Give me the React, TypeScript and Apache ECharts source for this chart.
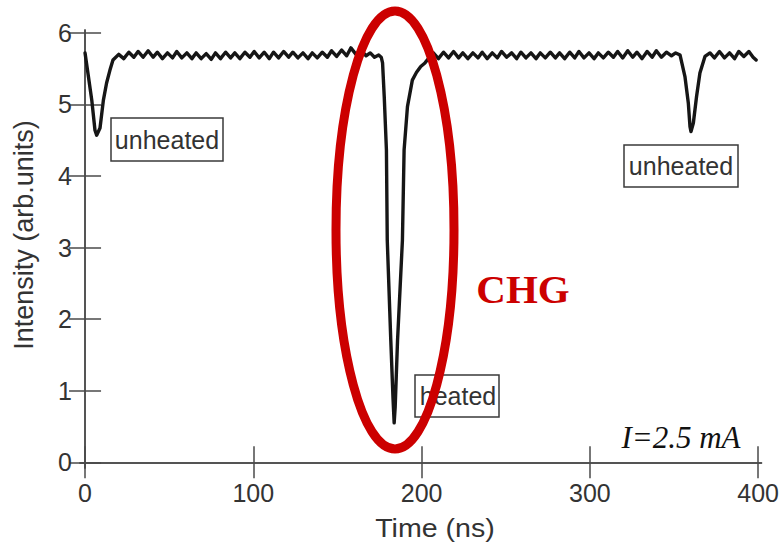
import React, { useEffect, useRef } from "react";
import * as echarts from "echarts";

const timeNs = [
  0, 2.0, 4.0, 5.9, 6.9, 8.9, 10.9, 12.8, 14.8, 16.6,
  20, 23, 26, 29, 31.5, 34.5, 37.5, 40.5, 43, 46, 49, 52, 54.5, 57.5, 60.5, 63.5,
  66, 69, 72, 75, 77.5, 80.5, 83.5, 86.5, 89, 92, 95, 98, 100.5, 103.5, 106.5, 109.5,
  112, 115, 118, 121, 123.5, 126.5, 129.5, 132.5, 135, 138, 141, 144, 146.5, 149.5,
  152.5, 155.5, 158, 161, 164, 167, 169.5, 172, 174.5, 176,
  176.8, 177.8, 179.1, 179.6, 181.7, 183, 183.7, 184.3, 185.7, 188.6, 189.6, 191.6,
  194.5, 197, 199.5, 202, 204.4,
  207, 210, 213, 216, 219, 222, 224.5, 227.5, 230.5, 233.5, 236, 239, 242, 245,
  247.5, 250.5, 253.5, 256.5, 259, 262, 265, 268, 270.5, 273.5, 276.5, 279.5, 282,
  285, 288, 291, 293.5, 296.5, 299.5, 302.5, 305, 308, 311, 314, 316.5, 319.5, 322.5,
  325.5, 328, 331, 334, 337, 339.5, 342.5, 345.5, 348.5, 351,
  353.6, 356.5, 358.5, 359.5, 360.1, 361.5, 363.4, 365.4, 368.4, 371.4,
  374, 377, 380, 383, 386, 388.5, 391.5, 394.5, 397, 398.8,
];
const intensity = [
  5.72, 5.39, 5.06, 4.64, 4.57, 4.67, 5.06, 5.30, 5.48, 5.62,
  5.70, 5.64, 5.73, 5.66, 5.74, 5.66, 5.75, 5.66, 5.73, 5.64, 5.72, 5.65, 5.74, 5.65, 5.72, 5.64,
  5.72, 5.64, 5.71, 5.63, 5.72, 5.64, 5.73, 5.65, 5.72, 5.64, 5.73, 5.66, 5.74, 5.65, 5.73, 5.64,
  5.73, 5.65, 5.74, 5.66, 5.73, 5.65, 5.72, 5.64, 5.72, 5.65, 5.73, 5.66, 5.75, 5.67,
  5.76, 5.68, 5.79, 5.70, 5.76, 5.68, 5.72, 5.66, 5.69, 5.66,
  5.58, 5.11, 4.36, 3.10, 1.70, 0.90, 0.55, 0.77, 1.70, 3.10, 4.36, 4.97,
  5.34, 5.45, 5.53, 5.58, 5.65,
  5.72, 5.64, 5.73, 5.65, 5.74, 5.65, 5.72, 5.64, 5.72, 5.65, 5.73, 5.64, 5.72, 5.65,
  5.74, 5.66, 5.72, 5.64, 5.73, 5.65, 5.72, 5.64, 5.72, 5.65, 5.73, 5.65, 5.72,
  5.64, 5.73, 5.65, 5.74, 5.65, 5.72, 5.64, 5.72, 5.65, 5.73, 5.66, 5.74, 5.65, 5.75,
  5.66, 5.73, 5.64, 5.74, 5.66, 5.75, 5.66, 5.73, 5.68, 5.72,
  5.69, 5.39, 5.02, 4.69, 4.62, 4.74, 5.11, 5.44, 5.67, 5.72,
  5.65, 5.74, 5.65, 5.72, 5.64, 5.74, 5.67, 5.74, 5.66, 5.62,
];

const xTicks = [0, 100, 200, 300, 400];
const yTicks = [0, 1, 2, 3, 4, 5, 6];
const xTitle = "Time (ns)";
const yTitle = "Intensity (arb.units)";
const unheatedLabel = "unheated";
const heatedLabel = "heated";
const chgLabel = "CHG";
const currentLabel = "I=2.5 mA";

const SANS = "'Liberation Sans', Arial, Helvetica, sans-serif";
const SERIF = "'Liberation Serif', 'Times New Roman', serif";
const AXIS_COLOR = "#4a4a4a";
const TEXT_COLOR = "#333";
const RED = "#cc0000";

export default function App() {
  const ref = useRef<HTMLDivElement>(null);

  useEffect(() => {
    if (!ref.current) return;
    const chart = echarts.init(ref.current, undefined, { renderer: "svg" });

    const data = timeNs.map((t, i) => [t, intensity[i]]);

    const axisLine = { show: true, lineStyle: { color: AXIS_COLOR, width: 1.5 } };
    const tickStyle = { color: AXIS_COLOR, width: 1.5 };

    const boxText = (text: string, x: number, y: number) => ({
      type: "text",
      x,
      y,
      z: 50,
      style: {
        text,
        fontFamily: SANS,
        fontSize: 25,
        fill: TEXT_COLOR,
        align: "center",
        verticalAlign: "middle",
      },
    });
    const box = (x: number, y: number, w: number, h: number) => ({
      type: "rect",
      z: 40,
      shape: { x, y, width: w, height: h },
      style: { fill: "#fff", stroke: "#3a3a3a", lineWidth: 1.5 },
    });

    chart.setOption({
      animation: false,
      backgroundColor: "#fff",
      grid: { left: 80, right: 19, top: 30, bottom: 78, containLabel: false },
      xAxis: [
        {
          type: "value",
          min: -3,
          max: 402,
          position: "bottom",
          axisLine,
          axisTick: { show: true, inside: true, length: 16, lineStyle: tickStyle, customValues: xTicks },
          axisLabel: {
            show: true,
            customValues: xTicks,
            margin: 12,
            fontFamily: SANS,
            fontSize: 25,
            color: TEXT_COLOR,
          },
          splitLine: { show: false },
        },
        {
          type: "value",
          min: -3,
          max: 402,
          position: "top",
          axisLine,
          axisTick: { show: true, inside: true, length: 16, lineStyle: tickStyle, customValues: xTicks },
          axisLabel: { show: false },
          splitLine: { show: false },
        },
      ],
      yAxis: [
        {
          type: "value",
          min: -0.08,
          max: 6.04,
          position: "left",
          axisLine,
          axisTick: { show: true, inside: true, length: 16, lineStyle: tickStyle, customValues: yTicks },
          axisLabel: {
            show: true,
            customValues: yTicks,
            margin: 8,
            fontFamily: SANS,
            fontSize: 25,
            color: TEXT_COLOR,
          },
          splitLine: { show: false },
        },
        {
          type: "value",
          min: -0.08,
          max: 6.04,
          position: "right",
          axisLine,
          axisTick: { show: true, inside: true, length: 16, lineStyle: tickStyle, customValues: yTicks },
          axisLabel: { show: false },
          splitLine: { show: false },
        },
      ],
      series: [
        {
          type: "line",
          xAxisIndex: 0,
          yAxisIndex: 0,
          data,
          showSymbol: false,
          symbol: "none",
          smooth: false,
          lineStyle: { color: "#161616", width: 3.4, join: "round", cap: "round" },
          z: 5,
        },
      ],
      graphic: [
        {
          type: "text",
          x: 24,
          y: 235,
          rotation: Math.PI / 2,
          style: {
            text: yTitle,
            fontFamily: SANS,
            fontSize: 27,
            fill: TEXT_COLOR,
            align: "center",
            verticalAlign: "middle",
          },
        },
        {
          type: "text",
          x: 435,
          y: 528,
          scaleX: 1.1,
          style: {
            text: xTitle,
            fontFamily: SANS,
            fontSize: 26,
            fill: TEXT_COLOR,
            align: "center",
            verticalAlign: "middle",
          },
        },
        box(111, 118, 112, 43),
        boxText(unheatedLabel, 167, 140),
        box(624, 145, 114, 42),
        boxText(unheatedLabel, 681, 166),
        box(415, 375, 84, 42),
        boxText(heatedLabel, 458, 396),
        {
          type: "text",
          x: 523,
          y: 289,
          z: 60,
          style: {
            text: chgLabel,
            fontFamily: SERIF,
            fontWeight: "bold",
            fontSize: 41,
            fill: RED,
            align: "center",
            verticalAlign: "middle",
          },
        },
        {
          type: "text",
          x: 681,
          y: 437,
          z: 60,
          style: {
            text: currentLabel,
            fontFamily: SERIF,
            fontStyle: "italic",
            fontSize: 31,
            fill: "#111",
            align: "center",
            verticalAlign: "middle",
          },
        },
        {
          type: "ellipse",
          z: 100,
          shape: { cx: 395, cy: 230, rx: 59, ry: 219 },
          style: { fill: "none", stroke: RED, lineWidth: 9 },
        },
      ],
    });

    return () => chart.dispose();
  }, []);

  return (
    <div
      ref={ref}
      style={{ position: "fixed", left: 0, top: 0, width: 782, height: 546, background: "#fff" }}
    />
  );
}
